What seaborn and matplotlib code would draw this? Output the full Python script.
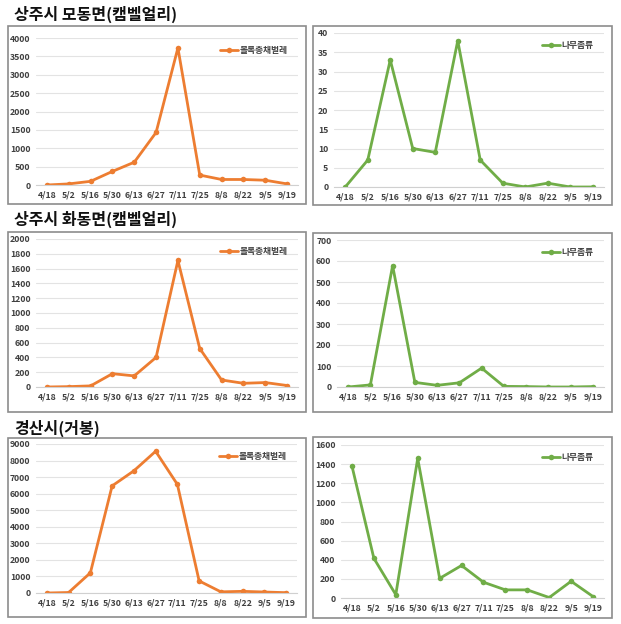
import matplotlib
matplotlib.use("Agg")
import matplotlib.pyplot as plt
import seaborn as sns
import pandas as pd
from matplotlib.patches import Rectangle

dates = ["4/18", "5/2", "5/16", "5/30", "6/13", "6/27", "7/11", "7/25", "8/8", "8/22", "9/5", "9/19"]
titles = ["상주시 모동면(캠벨얼리)", "상주시 화동면(캠벨얼리)", "경산시(거봉)"]
thrips_label = "볼록총채벌레"
beetle_label = "나무좀류"

modong_thrips = [0, 30, 100, 370, 620, 1430, 3730, 270, 150, 150, 130, 30]
modong_beetle = [0, 7, 33, 10, 9, 38, 7, 1, 0, 1, 0, 0]
hwadong_thrips = [0, 5, 15, 180, 150, 400, 1710, 520, 95, 50, 60, 20]
hwadong_beetle = [0, 10, 578, 22, 8, 20, 90, 3, 2, 0, 0, 2]
gyeongsan_thrips = [0, 30, 1220, 6470, 7380, 8560, 6560, 730, 70, 100, 60, 20]
gyeongsan_beetle = [1380, 415, 35, 1460, 205, 340, 165, 85, 85, 5, 175, 15]

sns.set_style("white")
plt.rcParams['font.family'] = ['Noto Sans CJK KR', 'DejaVu Sans']

W, H = 621, 624
fig = plt.figure(figsize=(W / 100, H / 100), dpi=100)

ORANGE = "#ED7D31"
GREEN = "#70AD47"

def fr(x0, y0, x1, y1):
    return [x0 / W, 1 - y1 / H, (x1 - x0) / W, (y1 - y0) / H]

panels = [
    # (box, axes, values, ymax, step, color, label)
    ((8, 26, 306, 204), (36, 38, 298, 185), modong_thrips, 4000, 500, ORANGE, thrips_label),
    ((313, 26, 612, 205), (334, 33, 604, 187), modong_beetle, 40, 5, GREEN, beetle_label),
    ((8, 232, 306, 412), (36, 239, 298, 387), hwadong_thrips, 2000, 200, ORANGE, thrips_label),
    ((313, 233, 612, 412), (337, 240, 604, 387), hwadong_beetle, 700, 100, GREEN, beetle_label),
    ((8, 438, 306, 617), (36, 444, 297, 593), gyeongsan_thrips, 9000, 1000, ORANGE, thrips_label),
    ((313, 437, 612, 618), (341, 445, 604, 598), gyeongsan_beetle, 1600, 200, GREEN, beetle_label),
]

for box, axp, vals, ymax, step, color, label in panels:
    bx0, by0, bx1, by1 = box
    fig.patches.append(Rectangle((bx0 / W, 1 - by1 / H), (bx1 - bx0) / W, (by1 - by0) / H,
                                 transform=fig.transFigure, fill=False,
                                 edgecolor="#8c8c8c", linewidth=1.2))
    ax = fig.add_axes(fr(*axp))
    df = pd.DataFrame({"x": list(range(len(dates))), "y": vals, "s": label})
    sns.lineplot(data=df, x="x", y="y", hue="s", palette=[color], marker="o",
                 markersize=4, markeredgewidth=0, linewidth=2, ax=ax)
    ax.set_xlim(-0.5, len(dates) - 0.5)
    ax.set_ylim(0, ymax)
    ax.set_yticks(range(0, ymax + 1, step))
    ax.set_xticks(range(len(dates)))
    ax.set_xticklabels(dates)
    ax.tick_params(axis="both", labelsize=6.3, labelcolor="#404040", length=0, pad=4)
    for lab in ax.get_xticklabels() + ax.get_yticklabels():
        lab.set_fontweight("bold")
    ax.set_xlabel("")
    ax.set_ylabel("")
    ax.grid(axis="y", color="#e3e3e3", linewidth=0.8)
    ax.set_axisbelow(True)
    for s in ["top", "right", "left"]:
        ax.spines[s].set_visible(False)
    ax.spines["bottom"].set_color("#d0d0d0")
    ax.spines["bottom"].set_linewidth(0.8)
    leg = ax.legend(loc="upper right", bbox_to_anchor=(0.98, 0.98), frameon=False,
                    fontsize=6.3, handlelength=2.0, handletextpad=0.2, borderaxespad=0.2)
    for t in leg.get_texts():
        t.set_fontweight("bold")
        t.set_color("#404040")

title_y = [14, 219, 428]
for t, y in zip(titles, title_y):
    fig.text(14 / W, 1 - y / H, t, fontsize=11.5, fontweight="bold", va="center", ha="left",
             color="#111111")

fig.savefig("out.png", dpi=100)
